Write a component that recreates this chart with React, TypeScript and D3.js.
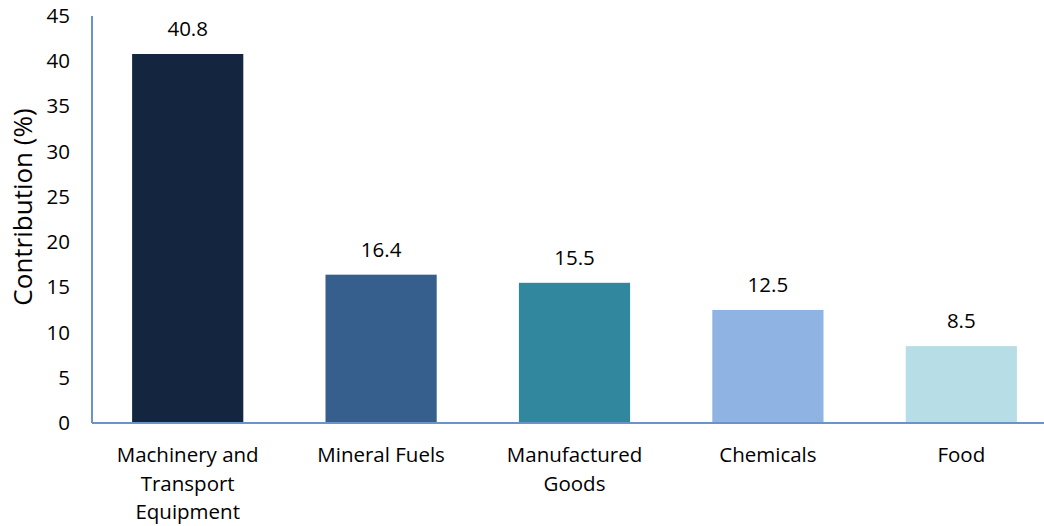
import React from "react";
import * as d3 from "d3";

const categories = [
  ["Machinery and", "Transport", "Equipment"],
  ["Mineral Fuels"],
  ["Manufactured", "Goods"],
  ["Chemicals"],
  ["Food"],
];
const values = [40.8, 16.4, 15.5, 12.5, 8.5];
const colors = ["#14263f", "#375f8e", "#31889e", "#8fb4e3", "#b7dde6"];
const yTicks = [0, 5, 10, 15, 20, 25, 30, 35, 40, 45];
const yTitle = "Contribution (%)";

const W = 1044;
const H = 526;
const FONT = "'Open Sans', Lato, sans-serif";

export default function App() {
  const left = 92;
  const y = d3.scaleLinear().domain([0, 45]).range([423, 16]);
  const x = d3
    .scaleBand<number>()
    .domain(values.map((_, i) => i))
    .range([left - 1, left - 1 + 967])
    .paddingInner(0.425)
    .paddingOuter(0.2125);
  const axisColor = "#6a93cc";
  return (
    <svg
      width={W}
      height={H}
      style={{ position: "absolute", left: 0, top: 0, background: "#fff" }}
      fontFamily={FONT}
    >
      {values.map((v, i) => (
        <g key={i}>
          <rect
            x={x(i)}
            y={y(v)}
            width={x.bandwidth()}
            height={y(0) - y(v)}
            fill={colors[i]}
          />
          <text
            x={(x(i) as number) + x.bandwidth() / 2}
            y={y(v) - 18}
            textAnchor="middle"
            fontSize={20.5}
            fill="#000"
          >
            {v.toFixed(1)}
          </text>
          {categories[i].map((line, j) => (
            <text
              key={j}
              x={(x(i) as number) + x.bandwidth() / 2}
              y={462 + j * 28.5}
              textAnchor="middle"
              fontSize={20.5}
              fill="#000"
            >
              {line}
            </text>
          ))}
        </g>
      ))}
      <line x1={left} x2={W} y1={y(0)} y2={y(0)} stroke={axisColor} strokeWidth={2} />
      <line x1={left} x2={left} y1={y(45)} y2={y(0)} stroke={axisColor} strokeWidth={2} />
      {yTicks.map((t) => (
        <text
          key={t}
          x={70}
          y={y(t) + 7}
          textAnchor="end"
          fontSize={20.5}
          fill="#000"
        >
          {t}
        </text>
      ))}
      <text
        transform={`translate(32, ${207}) rotate(-90)`}
        textAnchor="middle"
        fontSize={26}
        fill="#000"
      >
        {yTitle}
      </text>
    </svg>
  );
}
